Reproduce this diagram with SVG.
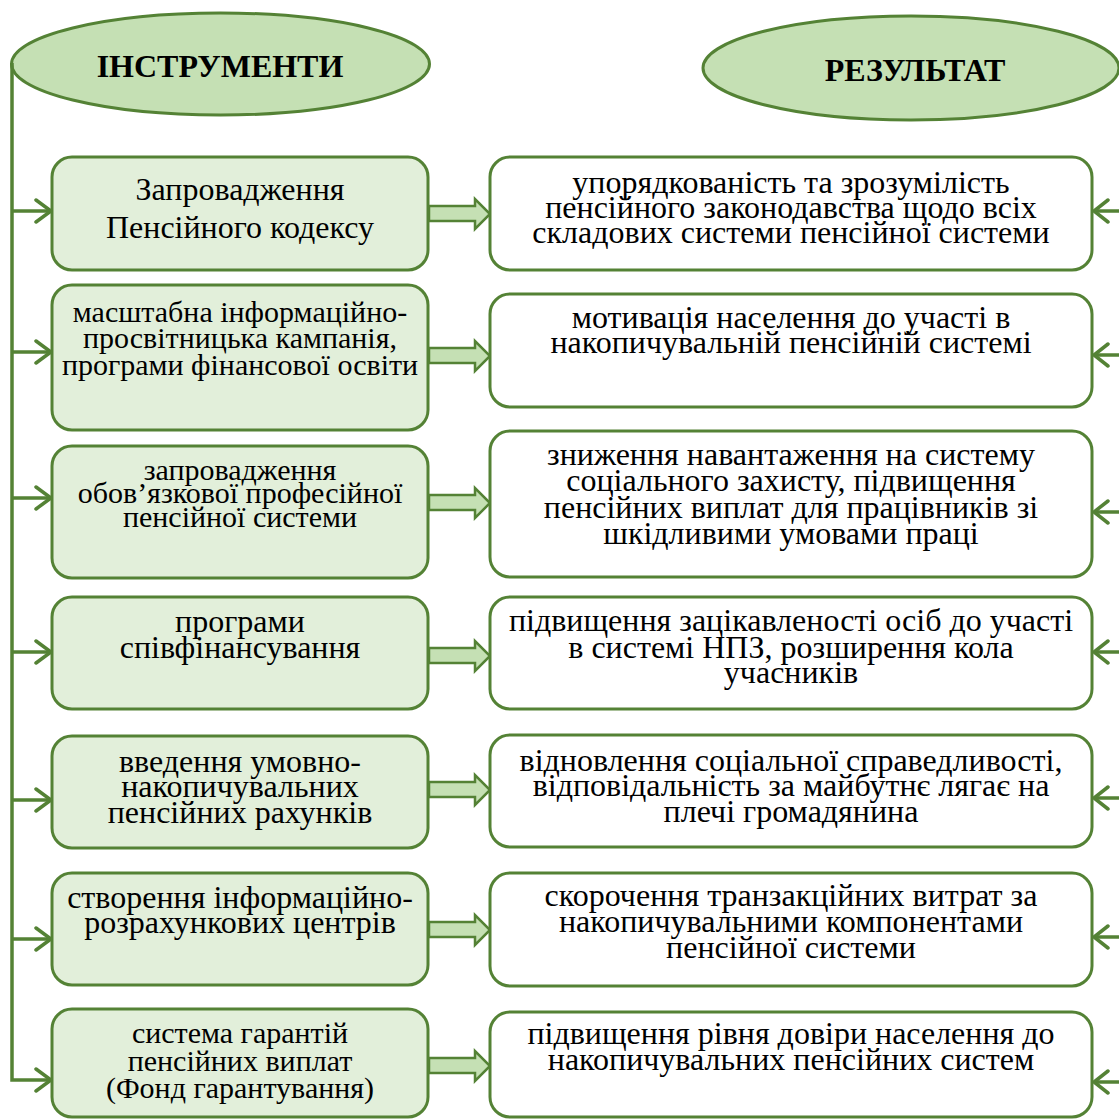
<svg xmlns="http://www.w3.org/2000/svg" width="1119" height="1119" viewBox="0 0 1119 1119">
<style>
.ell{fill:#c5e0b4;stroke:#548235;stroke-width:3}
.lb{fill:#e2efda;stroke:#548235;stroke-width:3}
.rb{fill:#ffffff;stroke:#548235;stroke-width:3}
.ba{fill:#c5e0b4;stroke:#548235;stroke-width:2.5;stroke-linejoin:miter}
.ln{fill:none;stroke:#548235;stroke-width:3.5}
.hd{fill:none;stroke:#548235;stroke-width:3.5;stroke-linecap:round;stroke-linejoin:miter}
text{font-family:'Liberation Serif','Times New Roman',serif;fill:#000;text-anchor:middle;font-size:32px}
.h{font-weight:bold;font-size:32px}
.s{font-size:30px}
</style>
<g id="header-left">
<ellipse class="ell" cx="220.5" cy="64" rx="209" ry="51"/>
<text class="h" x="220" y="77">ІНСТРУМЕНТИ</text>
</g>
<g id="header-right">
<ellipse class="ell" cx="911" cy="68" rx="208" ry="52"/>
<text class="h" x="915" y="81">РЕЗУЛЬТАТ</text>
</g>

<g id="connectors">
<path class="ln" d="M12 63 V1080 H50"/>
<path class="ln" d="M12 211 H50 M12 352 H50 M12 498 H50 M12 652 H50 M12 800 H50 M12 939 H50"/>
<path class="hd" d="M36 200 L51 211 L36 222 M36 341 L51 352 L36 363 M36 487 L51 498 L36 509 M36 641 L51 652 L36 663 M36 789 L51 800 L36 811 M36 928 L51 939 L36 950 M36 1069 L51 1080 L36 1091"/>
<path class="ln" d="M1094 211 H1119 M1094 355 H1119 M1094 512 H1119 M1094 652 H1119 M1094 798 H1119 M1094 937 H1119 M1094 1082 H1119"/>
<path class="hd" d="M1108 200 L1094 211 L1108 222 M1108 344 L1094 355 L1108 366 M1108 501 L1094 512 L1108 523 M1108 641 L1094 652 L1108 663 M1108 787 L1094 798 L1108 809 M1108 926 L1094 937 L1108 948 M1108 1071 L1094 1082 L1108 1093"/>
<polygon class="ba" points="429,206 475,206 475,199 490,214 475,229 475,221 429,221"/>
<polygon class="ba" points="429,348 475,348 475,341 490,356 475,371 475,363 429,363"/>
<polygon class="ba" points="429,495 475,495 475,488 490,503 475,518 475,510 429,510"/>
<polygon class="ba" points="429,648 475,648 475,641 490,656 475,671 475,663 429,663"/>
<polygon class="ba" points="429,782 475,782 475,775 490,790 475,805 475,797 429,797"/>
<polygon class="ba" points="429,922 475,922 475,915 490,930 475,945 475,937 429,937"/>
<polygon class="ba" points="429,1058 475,1058 475,1051 490,1066 475,1081 475,1073 429,1073"/>
</g>

<g id="tool-1">
<rect class="lb" x="52" y="157" width="376" height="113" rx="20"/>
<text x="240" y="200">Запровадження</text>
<text x="240" y="238">Пенсійного кодексу</text>
</g>
<g id="tool-2">
<rect class="lb" x="52" y="285" width="376" height="145" rx="20"/>
<text class="s" x="240" y="322">масштабна інформаційно-</text>
<text class="s" x="240" y="348">просвітницька кампанія,</text>
<text class="s" x="240" y="375">програми фінансової освіти</text>
</g>
<g id="tool-3">
<rect class="lb" x="52" y="446" width="376" height="132" rx="20"/>
<text class="s" x="240" y="480">запровадження</text>
<text class="s" x="240" y="503">обов’язкової професійної</text>
<text class="s" x="240" y="527">пенсійної системи</text>
</g>
<g id="tool-4">
<rect class="lb" x="52" y="597" width="376" height="112" rx="20"/>
<text x="240" y="632">програми</text>
<text x="240" y="658">співфінансування</text>
</g>
<g id="tool-5">
<rect class="lb" x="52" y="736" width="376" height="112" rx="20"/>
<text x="240" y="772">введення умовно-</text>
<text x="240" y="797">накопичувальних</text>
<text x="240" y="823">пенсійних рахунків</text>
</g>
<g id="tool-6">
<rect class="lb" x="52" y="873" width="376" height="112" rx="20"/>
<text x="240" y="908">створення інформаційно-</text>
<text x="240" y="933">розрахункових центрів</text>
</g>
<g id="tool-7">
<rect class="lb" x="52" y="1009" width="376" height="108" rx="20"/>
<text class="s" x="240" y="1043">система гарантій</text>
<text class="s" x="240" y="1071">пенсійних виплат</text>
<text class="s" x="240" y="1098">(Фонд гарантування)</text>
</g>

<g id="result-1">
<rect class="rb" x="490" y="157" width="602" height="113" rx="20"/>
<text x="791" y="193">упорядкованість та зрозумілість</text>
<text x="791" y="218">пенсійного законодавства щодо всіх</text>
<text x="791" y="243">складових системи пенсійної системи</text>
</g>
<g id="result-2">
<rect class="rb" x="490" y="294" width="602" height="113" rx="20"/>
<text x="791" y="328">мотивація населення до участі в</text>
<text x="791" y="353">накопичувальній пенсійній системі</text>
</g>
<g id="result-3">
<rect class="rb" x="490" y="431" width="602" height="146" rx="20"/>
<text x="791" y="465">зниження навантаження на систему</text>
<text x="791" y="491">соціального захисту, підвищення</text>
<text x="791" y="518">пенсійних виплат для працівників зі</text>
<text x="791" y="544">шкідливими умовами праці</text>
</g>
<g id="result-4">
<rect class="rb" x="490" y="597" width="602" height="112" rx="20"/>
<text x="791" y="631">підвищення зацікавленості осіб до участі</text>
<text x="791" y="658">в системі НПЗ, розширення кола</text>
<text x="791" y="683">учасників</text>
</g>
<g id="result-5">
<rect class="rb" x="490" y="735" width="602" height="112" rx="20"/>
<text x="791" y="771">відновлення соціальної справедливості,</text>
<text x="791" y="796">відповідальність за майбутнє лягає на</text>
<text x="791" y="822">плечі громадянина</text>
</g>
<g id="result-6">
<rect class="rb" x="490" y="873" width="602" height="113" rx="20"/>
<text x="791" y="906">скорочення транзакційних витрат за</text>
<text x="791" y="932">накопичувальними компонентами</text>
<text x="791" y="958">пенсійної системи</text>
</g>
<g id="result-7">
<rect class="rb" x="490" y="1012" width="602" height="105" rx="20"/>
<text x="791" y="1044">підвищення рівня довіри населення до</text>
<text x="791" y="1070">накопичувальних пенсійних систем</text>
</g>
</svg>
